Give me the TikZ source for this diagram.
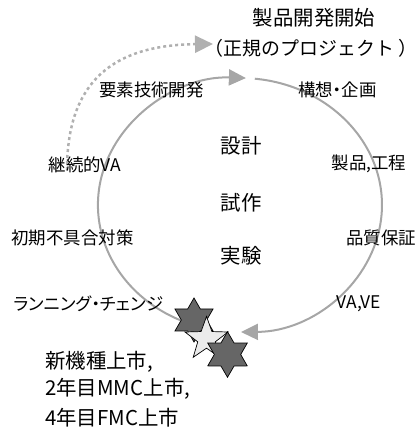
\documentclass[tikz,border=0pt]{standalone}
\usepackage{fontspec}
\setmainfont{Noto Sans CJK JP}
\usetikzlibrary{arrows.meta,shapes.geometric}
\definecolor{cgray}{HTML}{A6A6A6}
\definecolor{dgray}{HTML}{B0B0B0}
\definecolor{darkstar}{HTML}{666666}
\definecolor{lightstar}{HTML}{EBEBEB}
\begin{document}
\begin{tikzpicture}[x=1bp,y=1bp,
  lbl/.style={font=\fontsize{17.5}{20}\selectfont, inner sep=0},
  big/.style={font=\fontsize{20.5}{24}\selectfont, inner sep=0},
  cyc/.style={draw=cgray, line width=2bp},
  tipa/.style={-{Triangle[length=17bp,width=16bp]}},
  dots/.style={draw=dgray, line width=2.5bp, dash pattern=on 3bp off 3bp},
  starline/.style={draw=black, line width=0.7bp, line join=miter},
]
\useasboundingbox (0,0) rectangle (418,435);

% cycle arcs
\coordinate (la) at (191.4,110.7);
\draw[cyc,tipa] (la) arc[start angle=250,end angle=87.6,x radius=142,y radius=127] coordinate (lb);
\coordinate (ra) at (254.8,356.3);
\draw[cyc,tipa] (ra) arc[start angle=84,end angle=-89.6,x radius=142,y radius=127] coordinate (rb);

% dotted arrow
\coordinate (da) at (67,265);
\coordinate (db) at (213,391);
\draw[dots,-{Triangle[length=18bp,width=17bp]}] (da) .. controls (67,355) and (115,390) .. (db);

% stars
\coordinate (s1) at (194,115);
\coordinate (s2) at (206.5,96);
\coordinate (s3) at (227.5,80.5);
\draw[starline, fill=darkstar, shift={(s1)}]
  plot[samples at={0,...,11}, variable=\i]
  ({(mod(\i,2)==0 ? 22 : 12.7)*cos(90+30*\i)}, {(mod(\i,2)==0 ? 22 : 12.7)*sin(90+30*\i)}) -- cycle;
\draw[starline, fill=lightstar, shift={(s2)}]
  plot[samples at={0,...,9}, variable=\i]
  ({(mod(\i,2)==0 ? 22.6 : 9.2)*cos(90+36*\i)}, {(mod(\i,2)==0 ? 22.6 : 9.2)*sin(90+36*\i)}) -- cycle;
\draw[starline, fill=darkstar, shift={(s3)}]
  plot[samples at={0,...,11}, variable=\i]
  ({(mod(\i,2)==0 ? 22.8 : 13.2)*cos(90+30*\i)}, {(mod(\i,2)==0 ? 22.8 : 13.2)*sin(90+30*\i)}) -- cycle;

% texts
\node[big] (t1) at (314,417) {製品開発開始};
\node[big, font=\fontsize{19}{24}\selectfont] (t2) at (311,387) {（正規のプロジェクト ）};
\node[lbl] (n1) at (151.5,345) {要素技術開発};
\node[lbl, font=\fontsize{17.5}{20}\selectfont\addfontfeatures{CharacterWidth=AlternateProportional}] (n2) at (337.5,345) {構想・企画};
\node[big] (c1) at (241,289) {設計};
\node[big] (c2) at (241,232.5) {試作};
\node[big] (c3) at (241,179) {実験};
\node[lbl] (n3) at (85,270.5) {継続的VA};
\node[lbl] (n4) at (369,271) {製品,工程};
\node[lbl] (n5) at (72.5,197.5) {初期不具合対策};
\node[lbl] (n6) at (381,197.5) {品質保証};
\node[lbl, font=\fontsize{17.5}{20}\selectfont\addfontfeatures{CharacterWidth=AlternateProportional}] (n7) at (88.5,131) {ランニング・チェンジ};
\node[lbl] (n8) at (359,131) {VA,VE};
\node[big, anchor=west] (b1) at (45,73) {新機種上市,};
\node[big, anchor=west] (b2) at (45,46) {2年目MMC上市,};
\node[big, anchor=west] (b3) at (45,17.5) {4年目FMC上市};
\end{tikzpicture}
\end{document}
